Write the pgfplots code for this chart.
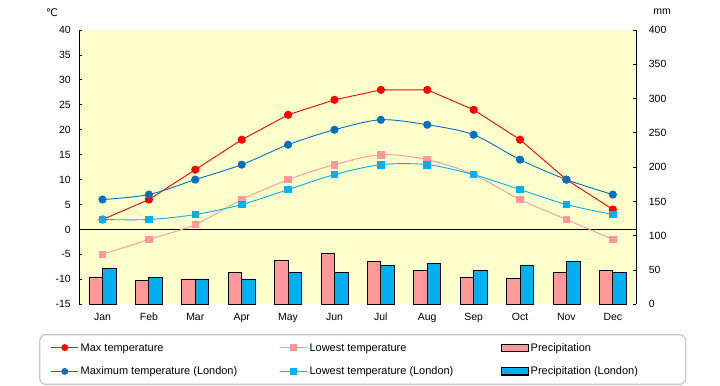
\documentclass[border=0pt]{standalone}
\usepackage{fontspec}
\setmainfont{Liberation Sans}
\newfontfamily\dejavu{DejaVu Sans}
\usepackage{pgfplots}
\pgfplotsset{compat=1.18}
\definecolor{bgy}{HTML}{FFFFCC}
\definecolor{maxred}{HTML}{FF0000}
\definecolor{lowpink}{HTML}{FF9999}
\definecolor{lonmax}{HTML}{0070C0}
\definecolor{lonlow}{HTML}{00B0F0}
\definecolor{legbord}{HTML}{C8C8C8}
\pgfplotsset{
  linelegend/.style={legend image code/.code={\draw[sharp corners,mark repeat=2,mark phase=2,##1] plot coordinates {(0bp,0bp) (13.5bp,0bp) (27bp,0bp)};}},
  barlegend/.style={legend image code/.code={\draw[sharp corners,##1] (0bp,-3.5bp) rectangle (27bp,3.5bp);}},
}
\begin{document}
\begin{tikzpicture}
\path[fill=white] (0bp,0bp) rectangle (720bp,385bp);
% precipitation axis (right)
\begin{axis}[
  at={(79.3bp,80.7bp)}, anchor=south west,
  scale only axis, width=556.7bp, height=274.3bp,
  xmin=-0.5, xmax=11.5, ymin=0, ymax=400,
  axis background/.style={fill=bgy},
  axis y line*=right, axis x line*=bottom,
  x axis line style={draw=none},
  y axis line style={black, line width=0.8bp, -},
  xtick={0,...,11},
  xticklabels={Jan,Feb,Mar,Apr,May,Jun,Jul,Aug,Sep,Oct,Nov,Dec},
  x tick style={draw=none},
  ytick={0,50,...,400},
  tick align=inside, major tick length=3bp,
  y tick style={black, line width=0.8bp},
  yticklabel style={anchor=west, inner sep=0pt, xshift=12.7bp, font=\fontsize{10.5}{12}\selectfont},
  xticklabel style={anchor=base, inner sep=0pt, yshift=-16bp, font=\fontsize{10.5}{12}\selectfont},
  /pgf/number format/assume math mode=true,
  clip=false,
]
\addplot[ybar, bar width=13.5bp, bar shift=-6.75bp, fill=lowpink, draw=black, line width=0.8bp]
  coordinates {(0,39) (1,35) (2,37) (3,47) (4,64) (5,74) (6,63) (7,50) (8,39) (9,38) (10,47) (11,50)};
\addplot[ybar, bar width=13.5bp, bar shift=6.75bp, fill=lonlow, draw=black, line width=0.8bp]
  coordinates {(0,53) (1,39) (2,37) (3,37) (4,46) (5,46) (6,56) (7,59) (8,50) (9,56) (10,63) (11,47)};
\end{axis}
% temperature axis (left)
\begin{axis}[
  at={(79.3bp,80.7bp)}, anchor=south west,
  scale only axis, width=556.7bp, height=274.3bp,
  xmin=-0.5, xmax=11.5, ymin=-15, ymax=40,
  axis y line*=left, axis x line=none,
  y axis line style={black, line width=0.8bp, -},
  ytick={-15,-10,...,40},
  tick align=inside, major tick length=3bp,
  y tick style={black, line width=0.8bp},
  yticklabel style={anchor=east, inner sep=0pt, xshift=-8.3bp, font=\fontsize{10.5}{12}\selectfont},
  /pgf/number format/assume math mode=true,
  clip=false,
  legend columns=3,
  legend style={at={(0.5092,-0.1083)}, anchor=north, draw=legbord, line width=1.3bp,
    rounded corners=6bp, inner xsep=11bp, inner ysep=6bp, row sep=10bp,
    font=\fontsize{11}{12}\selectfont,
    nodes={inner sep=2bp, anchor=west}},
]
\addplot[black, line width=0.8bp, forget plot] coordinates {(-0.5,0) (11.5,0)};
\addplot[maxred, line width=0.9bp, mark=*, mark size=3.6bp, forget plot]
  coordinates {(0,2) (1,6) (2,12) (3,18) (4,23) (5,26) (6,28) (7,28) (8,24) (9,18) (10,10) (11,4)};
\addplot[lowpink, line width=0.9bp, smooth, mark=square*, mark size=3.3bp, forget plot]
  coordinates {(0,-5) (1,-2) (2,1) (3,6) (4,10) (5,13) (6,15) (7,14) (8,11) (9,6) (10,2) (11,-2)};
\addplot[lonmax, line width=0.9bp, smooth, mark=*, mark size=3.6bp, forget plot]
  coordinates {(0,6) (1,7) (2,10) (3,13) (4,17) (5,20) (6,22) (7,21) (8,19) (9,14) (10,10) (11,7)};
\addplot[lonlow, line width=0.9bp, smooth, mark=square*, mark size=3.3bp, forget plot]
  coordinates {(0,2) (1,2) (2,3) (3,5) (4,8) (5,11) (6,13) (7,13) (8,11) (9,8) (10,5) (11,3)};
\addlegendimage{linelegend, maxred, line width=0.9bp, mark=*, mark size=3bp}
\addlegendentry{\makebox[197bp][l]{\strut Max temperature}}
\addlegendimage{linelegend, lowpink, line width=0.9bp, mark=square*, mark size=3bp}
\addlegendentry{\makebox[189bp][l]{\strut Lowest temperature}}
\addlegendimage{barlegend, fill=lowpink, draw=black, line width=1.1bp}
\addlegendentry{\makebox[142bp][l]{\strut Precipitation}}
\addlegendimage{linelegend, lonmax, line width=0.9bp, mark=*, mark size=3bp}
\addlegendentry{\makebox[197bp][l]{\strut Maximum temperature (London)}}
\addlegendimage{linelegend, lonlow, line width=0.9bp, mark=square*, mark size=3bp}
\addlegendentry{\makebox[189bp][l]{\strut Lowest temperature (London)}}
\addlegendimage{barlegend, fill=lonlow, draw=black, line width=1.1bp}
\addlegendentry{\makebox[142bp][l]{\strut Precipitation (London)}}
\end{axis}
\node[font={\dejavu\fontsize{10.5}{12}\selectfont}, inner sep=0pt] at (52bp,372bp) {℃};
\node[font=\fontsize{10.5}{12}\selectfont, inner sep=0pt] at (662bp,373bp) {mm};
\end{tikzpicture}
\end{document}
